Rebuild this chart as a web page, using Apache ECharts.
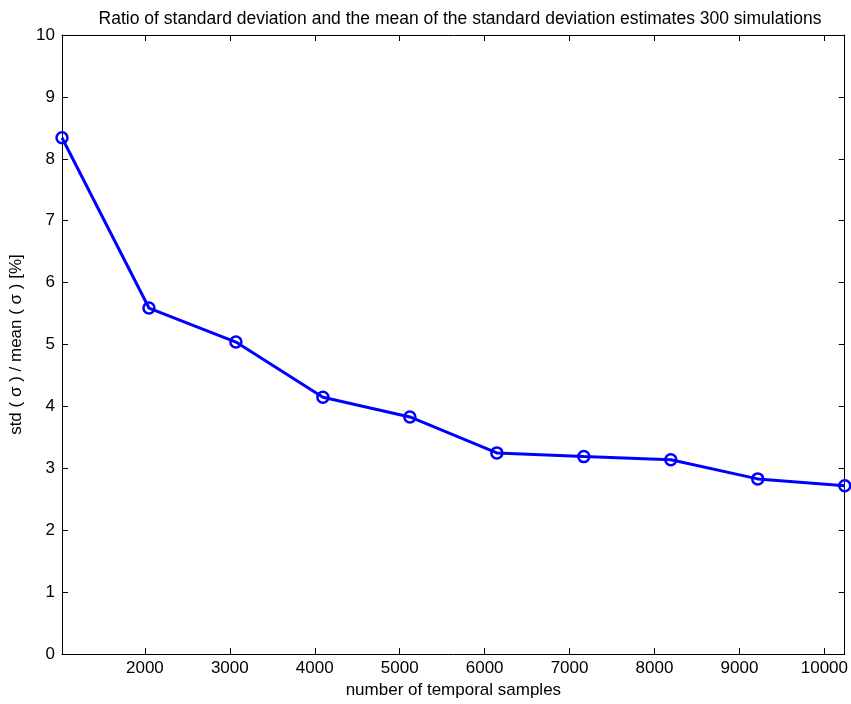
<!DOCTYPE html>
<html>
<head>
<meta charset="utf-8">
<script src="https://cdn.jsdelivr.net/npm/echarts@6/dist/echarts.min.js"></script>
<style>
  html, body { margin: 0; padding: 0; background: #fff; }
  #chart { width: 851px; height: 704px; }
</style>
</head>
<body>
<div id="chart"></div>
<script>
// Number of temporal samples per run
const samples = [1024, 2048, 3072, 4096, 5120, 6144, 7168, 8192, 9216, 10240];
// std(sigma) / mean(sigma) in percent
const ratioPct = [8.34, 5.59, 5.04, 4.15, 3.83, 3.25, 3.19, 3.14, 2.83, 2.72];
// Tick marks shown on the sample axis
const xTicks = [2000, 3000, 4000, 5000, 6000, 7000, 8000, 9000, 10000];

const FONT = '"Liberation Sans", Arial, Helvetica, sans-serif';
const FS = 17;
const X_MIN = 1024, X_MAX = 10240;

const chart = echarts.init(document.getElementById('chart'), null, { renderer: 'canvas' });

const frameLine = { show: true, onZero: false, lineStyle: { color: '#000', width: 1 } };
const inTick = { show: true, inside: true, length: 6, lineStyle: { color: '#000', width: 1 } };
const plain = v => String(v);

chart.setOption({
  animation: false,
  backgroundColor: '#fff',
  title: {
    text: 'Ratio of standard deviation and the mean of the standard deviation estimates 300 simulations',
    left: 455,
    top: 5,
    textAlign: 'center',
    textStyle: { fontFamily: FONT, fontSize: 17.5, fontWeight: 'normal', color: '#000' }
  },
  grid: { left: 62, right: 3, top: 35, bottom: 48, containLabel: false },
  xAxis: [
    {
      type: 'value', position: 'bottom', min: X_MIN, max: X_MAX,
      name: 'number of temporal samples', nameLocation: 'middle', nameGap: 25,
      nameTextStyle: { fontFamily: FONT, fontSize: FS, color: '#000' },
      axisLine: frameLine,
      axisTick: Object.assign({}, inTick, { customValues: xTicks }),
      axisLabel: { customValues: xTicks, formatter: plain, fontFamily: FONT, fontSize: FS, color: '#000', margin: 6 },
      splitLine: { show: false }
    },
    {
      type: 'value', position: 'top', min: X_MIN, max: X_MAX,
      axisLine: frameLine,
      axisTick: Object.assign({}, inTick, { customValues: xTicks }),
      axisLabel: { show: false },
      splitLine: { show: false }
    }
  ],
  yAxis: [
    {
      type: 'value', position: 'left', min: 0, max: 10, interval: 1,
      name: 'std ( σ ) / mean ( σ ) [%]', nameLocation: 'middle', nameGap: 28,
      nameTextStyle: { fontFamily: FONT, fontSize: FS, color: '#000' },
      axisLine: frameLine,
      axisTick: inTick,
      axisLabel: { formatter: plain, fontFamily: FONT, fontSize: FS, color: '#000', margin: 7 },
      splitLine: { show: false }
    },
    {
      type: 'value', position: 'right', min: 0, max: 10, interval: 1,
      axisLine: frameLine,
      axisTick: inTick,
      axisLabel: { show: false },
      splitLine: { show: false }
    }
  ],
  series: [
    {
      type: 'line',
      xAxisIndex: 0, yAxisIndex: 0,
      data: samples.map((s, i) => [s, ratioPct[i]]),
      clip: false,
      symbol: 'circle',
      symbolSize: 11,
      lineStyle: { color: '#0000ff', width: 3 },
      itemStyle: { color: 'rgba(0,0,0,0)', borderColor: '#0000ff', borderWidth: 2.5 },
      z: 3
    }
  ]
});
</script>
</body>
</html>
